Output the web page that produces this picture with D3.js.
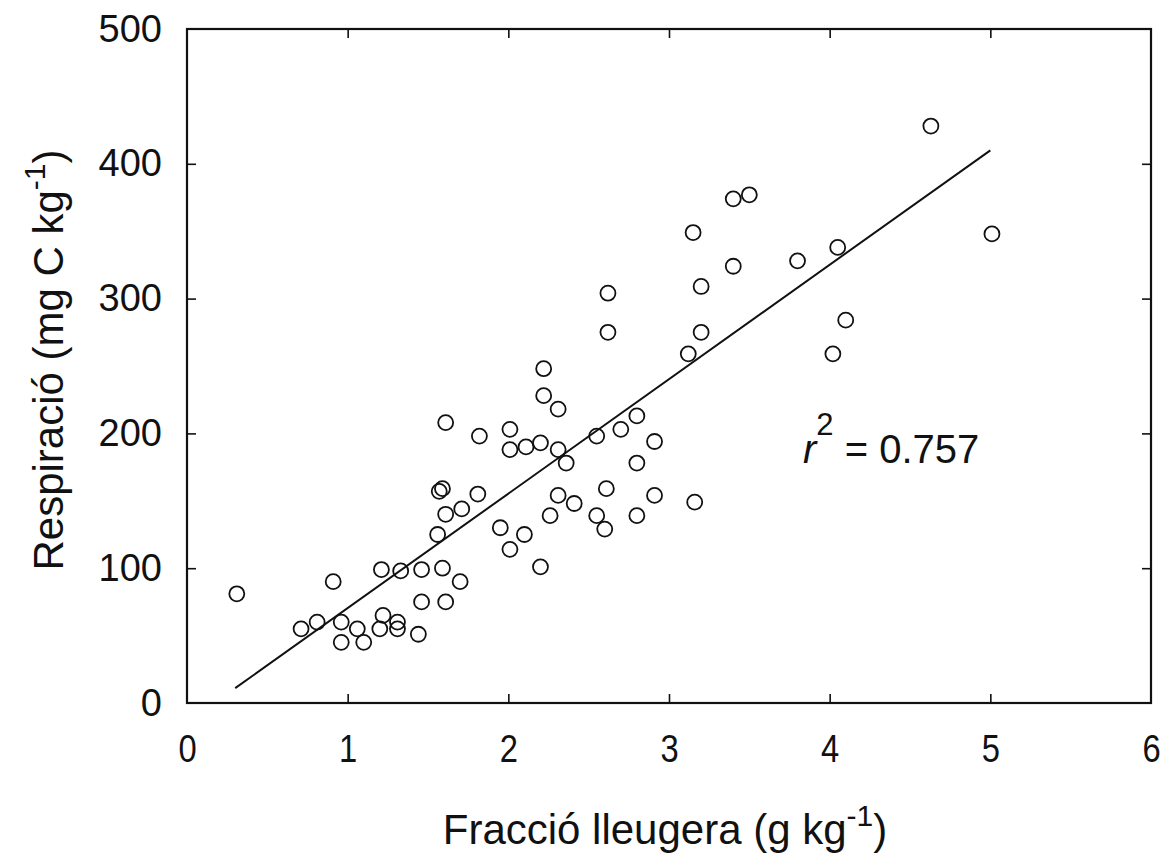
<!DOCTYPE html>
<html>
<head>
<meta charset="utf-8">
<script src="https://cdn.jsdelivr.net/npm/d3@7"></script>
<style>
  body { margin: 0; background: #fff; }
  text { font-family: "Liberation Sans", Arial, sans-serif; fill: #111; }
</style>
</head>
<body>
<svg id="chart"></svg>
<script>
// light fraction (g/kg) vs respiration (mg C/kg)
var fraccio = [0.31, 0.71, 0.81, 0.91, 0.96, 0.96, 1.06, 1.10, 1.21, 1.22,
    1.20, 1.31, 1.31, 1.33, 1.46, 1.46, 1.44, 1.56, 1.57, 1.59,
    1.61, 1.61, 1.59, 1.61, 1.71, 1.70, 1.81, 1.82, 1.95, 2.01,
    2.01, 2.01, 2.11, 2.10, 2.20, 2.20, 2.22, 2.22, 2.31, 2.31,
    2.36, 2.26, 2.31, 2.41, 2.55, 2.55, 2.61, 2.60, 2.70, 2.80,
    2.80, 2.80, 2.91, 2.91, 3.16, 2.62, 2.62, 3.12, 3.20, 3.20,
    3.15, 3.40, 3.40, 3.50, 3.80, 4.05, 4.02, 4.10, 4.63, 5.01];
var respiracio = [81, 55, 60, 90, 60, 45, 55, 45, 99, 65,
    55, 60, 55, 98, 99, 75, 51, 125, 157, 159,
    140, 208, 100, 75, 144, 90, 155, 198, 130, 114,
    203, 188, 190, 125, 101, 193, 248, 228, 218, 188,
    178, 139, 154, 148, 198, 139, 159, 129, 203, 213,
    178, 139, 194, 154, 149, 304, 275, 259, 275, 309,
    349, 324, 374, 377, 328, 338, 259, 284, 428, 348];

// regression line ends
var fitX = [0.3, 5.0];
var fitY = [11, 410];

var xTicks = [0, 1, 2, 3, 4, 5, 6],
    yTicks = [0, 100, 200, 300, 400, 500],
    innerXTicks = [1, 2, 3, 4, 5],
    innerYTicks = [100, 200, 300, 400];

var r2Value = "0.757";

var svgWidth = 1160,
    svgHeight = 868,
    plotLeft = 187,
    plotRight = 1151,
    plotTop = 29,
    plotBottom = 703,
    tickLen = 9;

var svg = d3.select("#chart")
    .attr("width", svgWidth)
    .attr("height", svgHeight);

var x = d3.scaleLinear().domain([0, 6]).range([plotLeft, plotRight]);
var y = d3.scaleLinear().domain([0, 500]).range([plotBottom, plotTop]);

// bottom axis with labels, ticks pointing in
var xAxis = svg.append("g")
    .attr("transform", "translate(0," + plotBottom + ")")
    .call(d3.axisBottom(x).tickValues(xTicks).tickFormat(d3.format("d"))
        .tickSizeInner(-tickLen).tickSizeOuter(0).tickPadding(31));

xAxis.selectAll(".tick text")
    .attr("font-size", 39)
    .attr("transform", "scale(0.84,1)")
    .attr("fill", "#111");

var yAxis = svg.append("g")
    .attr("transform", "translate(" + plotLeft + ",0)")
    .call(d3.axisLeft(y).tickValues(yTicks).tickFormat(d3.format("d"))
        .tickSizeInner(-tickLen).tickSizeOuter(0).tickPadding(25));

yAxis.selectAll(".tick text")
    .attr("font-size", 38)
    .attr("fill", "#111");

// top and right: ticks only
svg.append("g")
    .attr("transform", "translate(0," + plotTop + ")")
    .call(d3.axisTop(x).tickValues(innerXTicks).tickSizeInner(-tickLen).tickSizeOuter(0).tickFormat(""));
svg.append("g")
    .attr("transform", "translate(" + plotRight + ",0)")
    .call(d3.axisRight(y).tickValues(innerYTicks).tickSizeInner(-tickLen).tickSizeOuter(0).tickFormat(""));

svg.selectAll(".domain").remove();
svg.selectAll(".tick line")
    .attr("stroke", "#111")
    .attr("stroke-width", 1.6)
    .style("display", function (d) { return (d == 0 || d == 6 || d == 500) ? "none" : null; });

// frame
svg.append("rect")
    .attr("x", x(0))
    .attr("y", y(500))
    .attr("width", x(6) - x(0))
    .attr("height", y(0) - y(500))
    .attr("fill", "none")
    .attr("stroke", "#111")
    .attr("stroke-width", 2.2);

// regression line
var fitData = fitX.map(function (d, i) { return [d, fitY[i]]; });
svg.append("path")
    .datum(fitData)
    .attr("d", d3.line().x(function (d) { return x(d[0]); }).y(function (d) { return y(d[1]); }))
    .attr("fill", "none")
    .attr("stroke", "#111")
    .attr("stroke-width", 2);

// points
var pts = fraccio.map(function (d, i) { return [d, respiracio[i]]; });
svg.selectAll("circle.pt")
    .data(pts)
    .enter()
    .append("circle")
    .attr("class", "pt")
    .attr("cx", function (d) { return x(d[0]); })
    .attr("cy", function (d) { return y(d[1]); })
    .attr("r", 7.5)
    .attr("fill", "none")
    .attr("stroke", "#111")
    .attr("stroke-width", 1.8);

// axis titles
var xTitle = svg.append("text")
    .attr("x", 665)
    .attr("y", 844)
    .attr("text-anchor", "middle")
    .attr("font-size", 42);
xTitle.append("tspan").text("Fracció lleugera (g kg");
xTitle.append("tspan").attr("font-size", 30).attr("dy", -18).text("-1");
xTitle.append("tspan").attr("dy", 18).text(")");

var yTitle = svg.append("text")
    .attr("transform", "translate(63,360) rotate(-90)")
    .attr("text-anchor", "middle")
    .attr("font-size", 42);
yTitle.append("tspan").text("Respiració (mg C kg");
yTitle.append("tspan").attr("font-size", 30).attr("dy", -18).text("-1");
yTitle.append("tspan").attr("dy", 18).text(")");

// r squared
var r2 = svg.append("text")
    .attr("x", 803)
    .attr("y", 463)
    .attr("font-size", 40);
r2.append("tspan").attr("font-style", "italic").text("r");
r2.append("tspan").attr("font-size", 31).attr("dy", -28).attr("dx", 0).text("2");
r2.append("tspan").attr("dy", 28).text(" = " + r2Value);
</script>
</body>
</html>
